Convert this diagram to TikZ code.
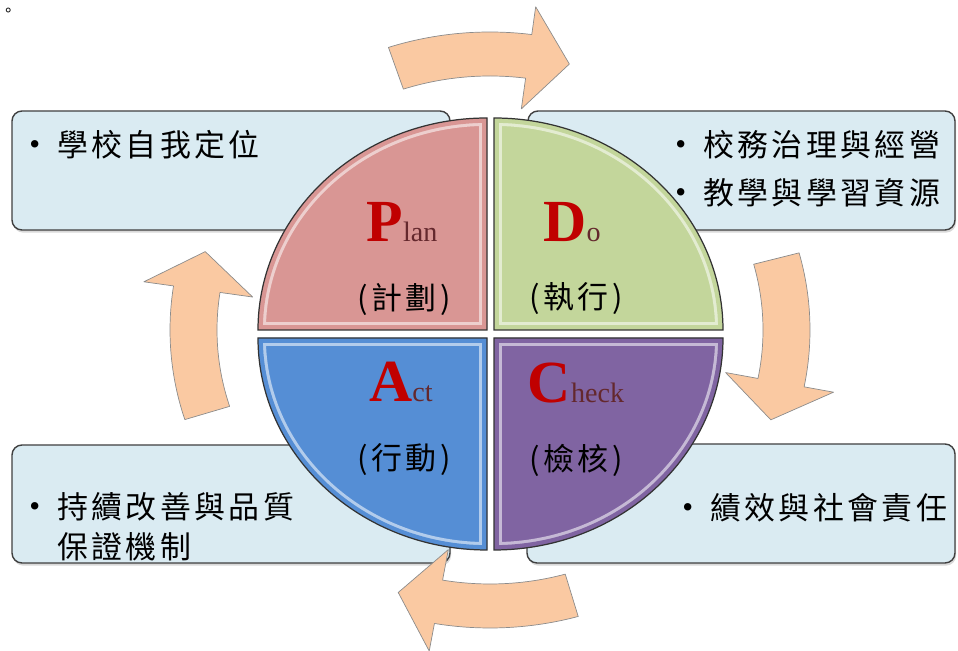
\documentclass[tikz,border=0pt]{standalone}
\usepackage{fontspec}
\setmainfont{Liberation Serif}
\newfontfamily\cjk[LetterSpace=11]{Noto Sans CJK TC}
\usetikzlibrary{shadows}

\definecolor{planred}{RGB}{217,150,148}
\definecolor{dogreen}{RGB}{195,214,155}
\definecolor{actblue}{RGB}{85,142,213}
\definecolor{checkpurple}{RGB}{128,100,162}
\definecolor{boxblue}{RGB}{218,235,242}
\definecolor{arrowpeach}{RGB}{250,201,162}
\definecolor{pdcared}{RGB}{192,0,0}
\definecolor{pdcadark}{RGB}{100,40,45}

\newcommand{\bul}{\makebox[0.56cm][l]{\normalfont\raisebox{0.08em}{\textbullet}}}
\newcommand{\pdca}[2]{{\fontsize{34}{34}\selectfont\bfseries\color{pdcared}#1}{\fontsize{16}{16}\selectfont\color{pdcadark}#2}}

% one quarter of the circle: corner x, corner y, start angle, colour
\newcommand{\pdcaquarter}[4]{%
  \begin{scope}
    \clip (#1,#2) -- ++(#3:229 and 212) arc[start angle=#3,delta angle=90,x radius=229,y radius=212] -- cycle;
    \fill[#4] (#1-240,#2-240) rectangle (#1+240,#2+240);
    \draw[white,opacity=0.55,line width=9pt] (#1,#2) -- ++(#3:229 and 212) arc[start angle=#3,delta angle=90,x radius=229,y radius=212] -- cycle;
    \draw[#4,line width=5.5pt] (#1,#2) -- ++(#3:229 and 212) arc[start angle=#3,delta angle=90,x radius=229,y radius=212] -- cycle;
  \end{scope}
  \draw[black!80,line width=0.7pt] (#1,#2) -- ++(#3:229 and 212) arc[start angle=#3,delta angle=90,x radius=229,y radius=212] -- cycle;}

\begin{document}
\begin{tikzpicture}[x=0.02cm,y=0.02cm,
    infobox/.style={fill=boxblue,draw=black!75,line width=0.8pt,rounded corners=0.2cm,
      drop shadow={shadow xshift=0.6pt,shadow yshift=-1.5pt,opacity=0.3}},
    item/.style={anchor=west,inner sep=0pt,font=\cjk\fontsize{17.6}{21}\selectfont},
    pdcaword/.style={anchor=base,inner sep=0pt},
    zhlabel/.style={inner sep=0pt,font=\cjk\fontsize{17.6}{21}\selectfont},
    cyclearrow/.style={fill=arrowpeach,draw=black!45,line width=0.4pt,line join=round}]

    \useasboundingbox (0,0) rectangle (958,651);

    \node[anchor=west,inner sep=0pt,font=\cjk\fontsize{9}{9}\selectfont] (stop) at (0,639) {。};

    % Text boxes behind the circle
    \draw[infobox] (12,421) rectangle (450,540);
    \draw[infobox] (528,421) rectangle (955,540);
    \draw[infobox] (12,88) rectangle (450,206);
    \draw[infobox] (527,88) rectangle (955,207);

    \node[item] (plan1) at (29,506) {\bul 學校自我定位};
    \node[item] (do1) at (675,506) {\bul 校務治理與經營};
    \node[item] (do2) at (675,458) {\bul 教學與學習資源};
    \node[item] (act1) at (29,144) {\bul 持續改善與品質};
    \node[item] (act2) at (57,104) {保證機制};
    \node[item] (check1) at (682,143) {\bul 績效與社會責任};

    % The four quarters
    \pdcaquarter{487}{321}{90}{planred}
    \pdcaquarter{494}{321}{0}{dogreen}
    \pdcaquarter{487}{313}{180}{actblue}
    \pdcaquarter{494}{313}{270}{checkpurple}

    \node[pdcaword] (planword) at (402,409) {\pdca{P}{lan}};
    \node[pdcaword] (doword) at (572,409) {\pdca{D}{o}};
    \node[pdcaword] (actword) at (401,249) {\pdca{A}{ct}};
    \node[pdcaword] (checkword) at (576,248) {\pdca{C}{heck}};

    \node[zhlabel] (planzh) at (404,352) {(計劃)};
    \node[zhlabel] (dozh) at (576,352) {(執行)};
    \node[zhlabel] (actzh) at (404,191) {(行動)};
    \node[zhlabel] (checkzh) at (576,191) {(檢核)};

    % Curved arrows round the circle, clockwise
    \begin{scope}[shift={(490,321)}]
      \foreach \c in {90.5,-3,-92,179.5} {
        \draw[cyclearrow] (\c+18:320 and 298)
          arc[start angle=\c+18,end angle=\c-8,x radius=320,y radius=298]
          -- (\c-8:350 and 326) -- (\c-16:297 and 276) -- (\c-8:240 and 223) -- (\c-8:273 and 254)
          arc[start angle=\c-8,end angle=\c+18,x radius=273,y radius=254] -- cycle;
      }
    \end{scope}

\end{tikzpicture}
\end{document}
